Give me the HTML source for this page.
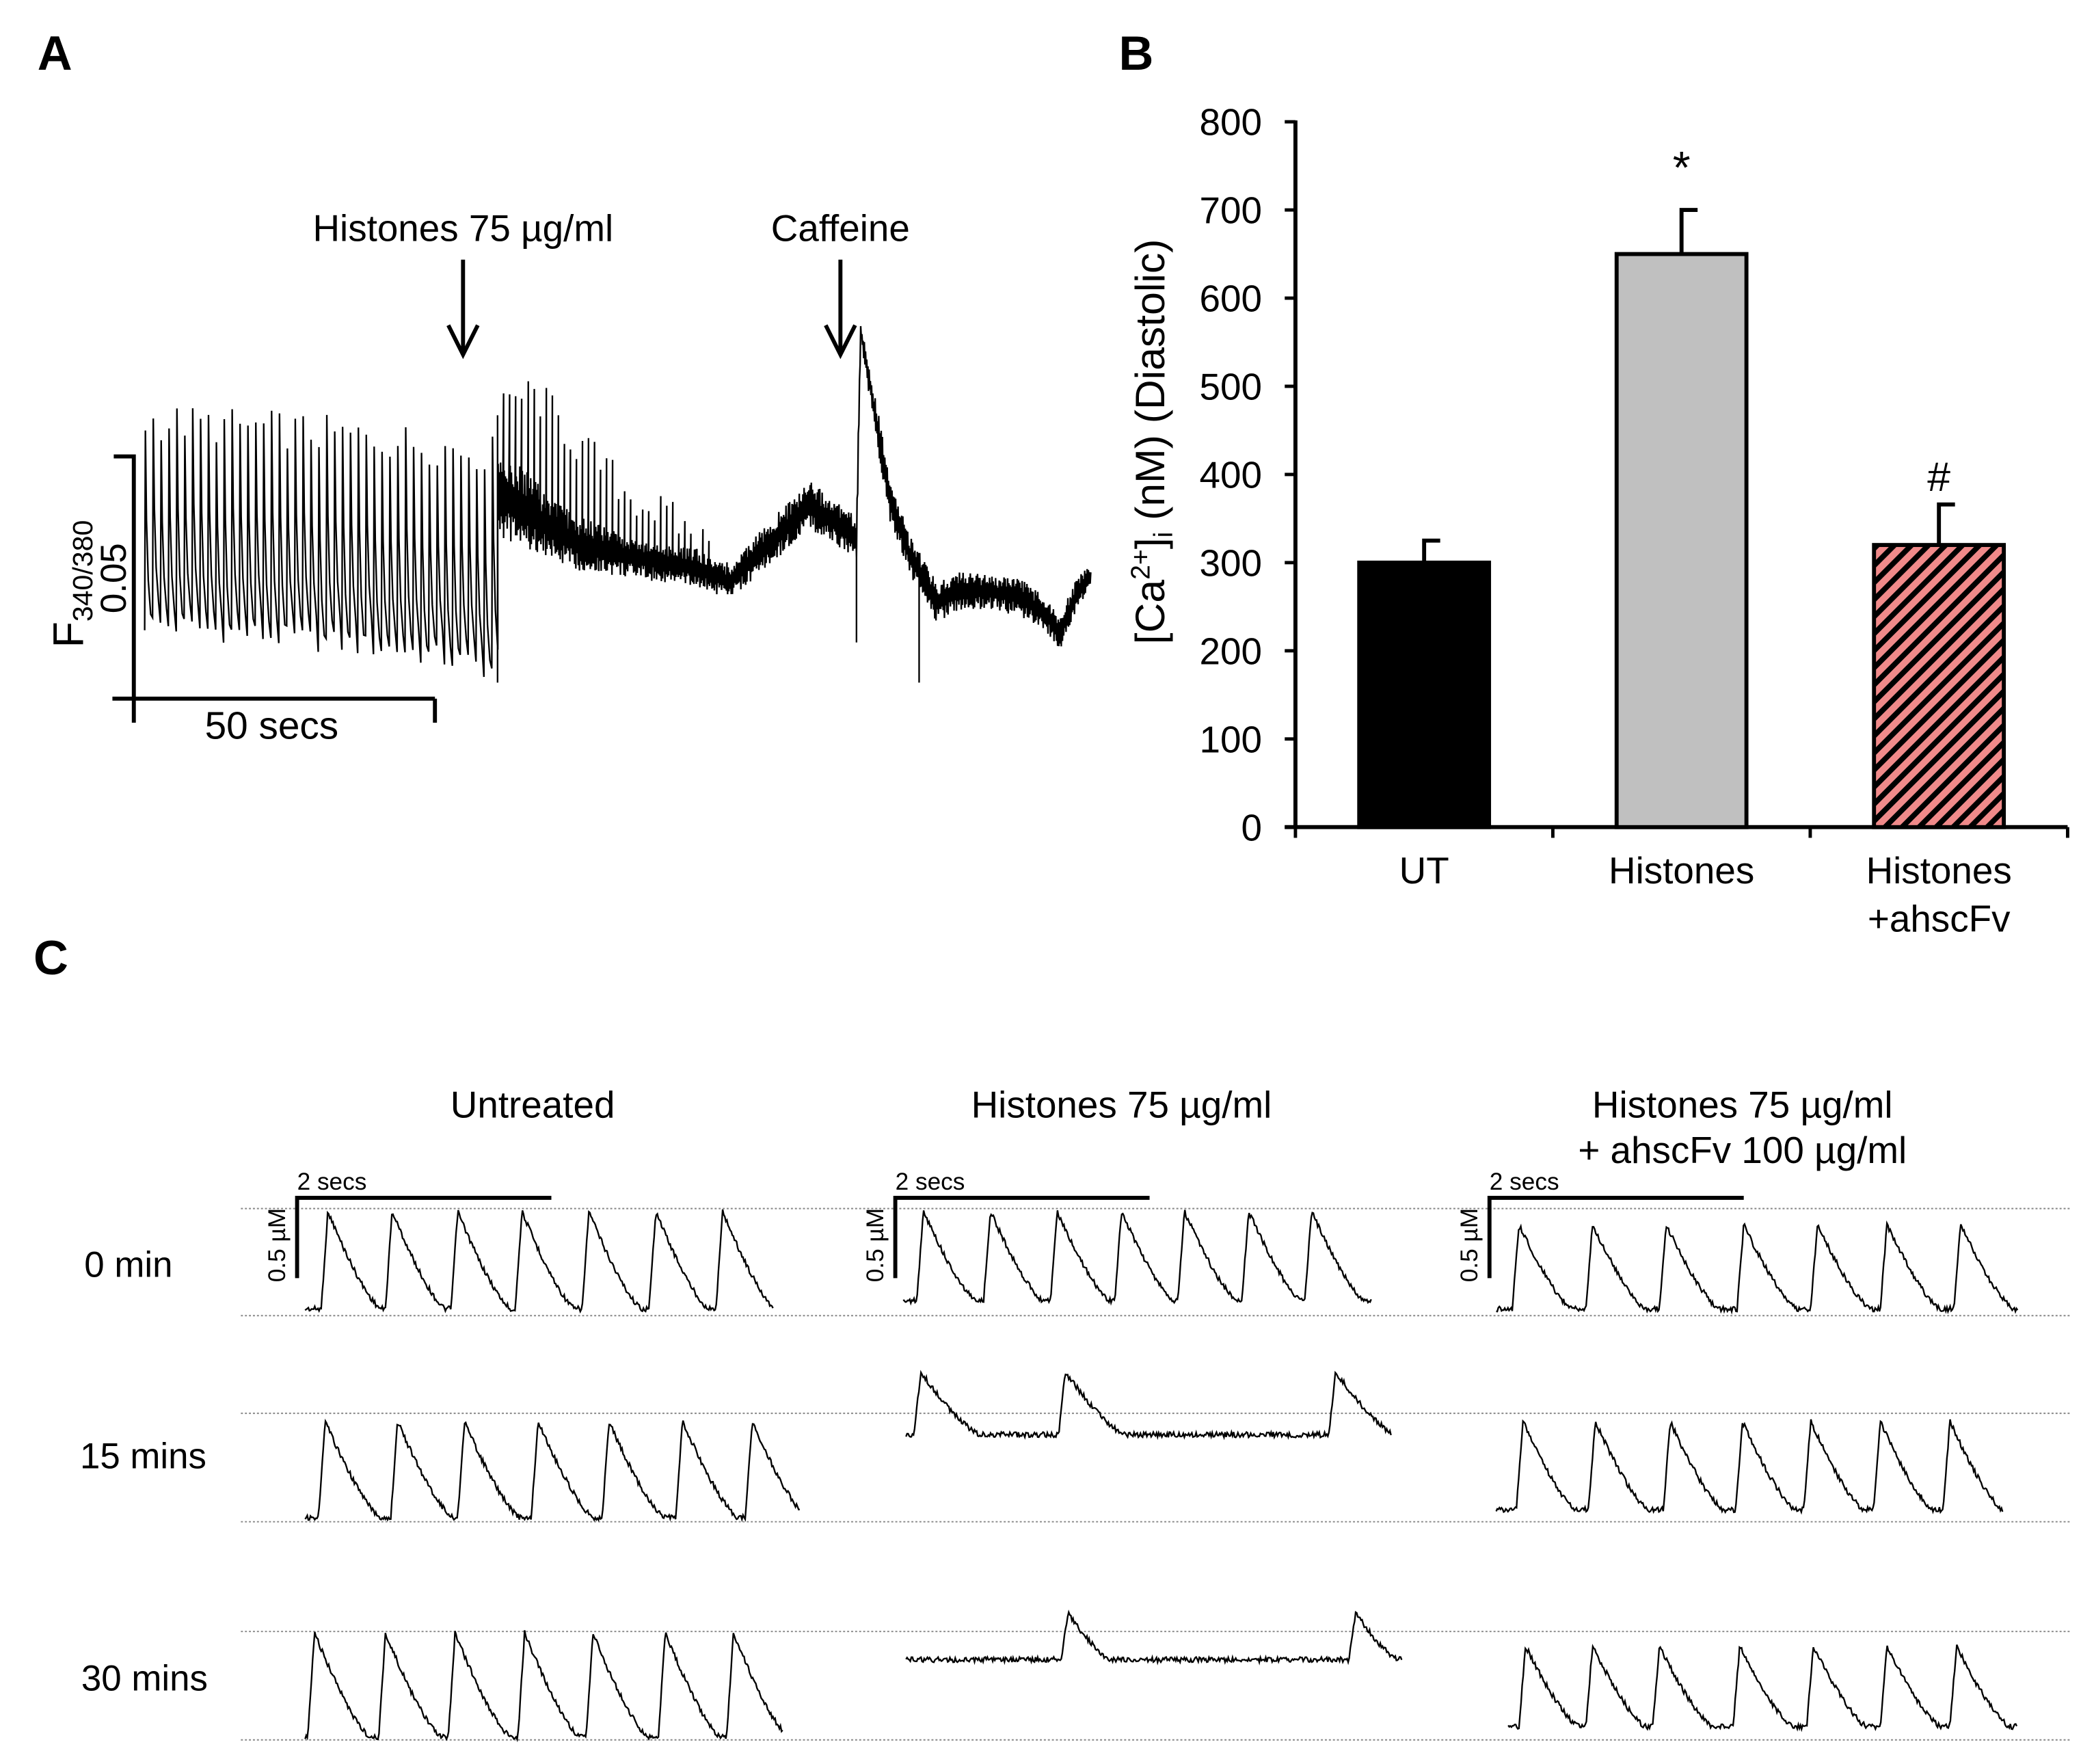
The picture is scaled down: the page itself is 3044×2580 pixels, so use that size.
<!DOCTYPE html>
<html><head><meta charset="utf-8"><style>
html,body{margin:0;padding:0;background:#fff}
svg{display:block}
text{font-family:"Liberation Sans",Arial,sans-serif;fill:#000}
</style></head><body>
<svg id="fig" xmlns="http://www.w3.org/2000/svg" width="3044" height="2580" viewBox="0 0 1555 1318" preserveAspectRatio="none">
<defs>
<pattern id="hatch" patternUnits="userSpaceOnUse" width="9" height="9" patternTransform="rotate(45)">
<rect width="9" height="9" fill="#f08a8a"/><rect width="4" height="9" fill="#000"/>
</pattern>
</defs>
<g>
<text x="28" y="52" font-size="36" font-weight="bold">A</text>
<text x="346" y="180" font-size="28" text-anchor="middle">Histones 75 µg/ml</text>
<text x="628" y="180" font-size="28" text-anchor="middle">Caffeine</text>
<g stroke="#000" stroke-width="3" fill="none"><line x1="346" y1="194" x2="346" y2="264"/><polyline points="335,243 346,265 357,243"/></g>
<g stroke="#000" stroke-width="3" fill="none"><line x1="628" y1="194" x2="628" y2="264"/><polyline points="617,243 628,265 639,243"/></g>
<g stroke="#000" stroke-width="3" fill="none">
<polyline points="85,341 100,341 100,540"/><line x1="84" y1="522" x2="325" y2="522"/><line x1="325" y1="522" x2="325" y2="540"/>
</g>
<text x="203" y="552" font-size="29" text-anchor="middle">50 secs</text>
<text transform="translate(62,484) rotate(-90)" font-size="32">F<tspan font-size="21" dy="7">340/380</tspan></text>
<text transform="translate(94,432) rotate(-90)" font-size="27" text-anchor="middle">0.05</text>
<g id="traceA"></g>
</g>

<g>
<text x="836" y="52" font-size="36" font-weight="bold">B</text>
<g id="chartB"></g>
</g>

<g>
<text x="25" y="728" font-size="36" font-weight="bold">C</text>
<text x="398" y="835" font-size="28" text-anchor="middle">Untreated</text>
<text x="838" y="835" font-size="28" text-anchor="middle">Histones 75 µg/ml</text>
<text x="1302" y="835" font-size="28" text-anchor="middle">Histones 75 µg/ml</text>
<text x="1302" y="869" font-size="28" text-anchor="middle">+ ahscFv 100 µg/ml</text>
<text x="96" y="954" font-size="27" text-anchor="middle">0 min</text>
<text x="107" y="1097" font-size="27" text-anchor="middle">15 mins</text>
<text x="108" y="1263" font-size="27" text-anchor="middle">30 mins</text>
<g id="panelC"></g>
</g>
</svg>
<script>
const NS="http://www.w3.org/2000/svg";
// ---------- Panel A data (time in s, F340/380 ratio ×1000 above scale-bar base) ----------
const beatTimes=[1.8,22.2,44.4,60];
const beatTroughF=[15.7,13.0,10.2,6.1];
const beatPeakF=[57.2,55.8,53.0,50.3];
const envT=[60.4,64.4,68.9,73.3,82.2,93.3,98.9,104.4,112.2,116.7,120,120.7,123.3,125.6,128.9,133.3,137.8,142.2,146.7,151.1,153.8,156.7,158.9];
const envLow=[33.7,31.0,29.0,26.5,25.0,23.0,20.5,26.0,35.0,31.5,29.0,74,53.0,36.5,25.4,15.7,18.5,18.5,17.1,14.4,10.2,18.5,22.7];
const envHigh=[50.0,48.0,42.0,38.0,33.5,30.9,27.5,35.1,45.0,40.5,37.5,77.9,61.3,44.8,33.7,24.0,26.8,25.4,25.4,21.3,17.1,25.4,27.5];
const spikeEnvT=[60.4,63,66,69,73,78,82,88,93,99];
const spikeEnvF=[58,62,63,60,53,48,42,38,34,28];
const spikeT=[60.4,120,130.4];
const spikeF=[3.3,11.6,3.3];
function ax(t){return 100+t*4.5;}
function ay(f){return 522-f*3.62;}
function interp(xs,ys,x){if(x<=xs[0])return ys[0];for(let i=1;i<xs.length;i++){if(x<=xs[i]){const r=(x-xs[i-1])/(xs[i]-xs[i-1]);return ys[i-1]+r*(ys[i]-ys[i-1]);}}return ys[ys.length-1];}
function h(i){const s=Math.sin(i*12.9898+78.233)*43758.5453;return s-Math.floor(s);}
(function(){
  const g=document.getElementById('traceA');
  let pts=[];
  const period=1.31;let k=0;
  for(let t=beatTimes[0];t<60;t+=period,k++){
    const lo=interp(beatTimes,beatTroughF,t)+(h(k)-0.5)*5;
    const hi=interp(beatTimes,beatPeakF,t)+(h(k+99)-0.5)*8;
    pts.push([ax(t),ay(lo)]);pts.push([ax(t+0.12),ay(hi)]);
    pts.push([ax(t+0.3),ay(lo+(hi-lo)*0.55)]);pts.push([ax(t+0.6),ay(lo+(hi-lo)*0.25)]);pts.push([ax(t+1.0),ay(lo+(hi-lo)*0.08)]);
  }
  let j=0;let nextBeat=60.4;let bk=0;
  for(let t=60.4;t<=158.9;t+=0.1,j++){
    const lo=interp(envT,envLow,t),hi=interp(envT,envHigh,t);
    const r=(j%2===0)?h(j)*0.35:0.65+h(j)*0.35;
    let f=lo+(hi-lo)*r;
    if(t>=nextBeat&&t<99){
      const sp=interp(spikeEnvT,spikeEnvF,t)+(h(bk+300)-0.5)*8;
      pts.push([ax(t),ay(sp)]);
      nextBeat+=1.0;bk++;
    }
    pts.push([ax(t),ay(f)]);
    for(let s=0;s<spikeT.length;s++){if(Math.abs(t-spikeT[s])<0.051){pts.push([ax(t),ay(spikeF[s])]);pts.push([ax(t),ay(f)]);}}
  }
  const p=document.createElementNS(NS,'polyline');
  p.setAttribute('points',pts.map(q=>q[0].toFixed(2)+','+q[1].toFixed(2)).join(' '));
  p.setAttribute('fill','none');p.setAttribute('stroke','#000');p.setAttribute('stroke-width','1.2');
  
  
  g.appendChild(p);
})();

// ---------- Panel B data ----------
const categories=["UT","Histones","Histones\n+ahscFv"];
const means=[300,650,320];
const errors=[25,50,46];
const markers=["","*","#"];
const yTicks=[0,100,200,300,400,500,600,700,800];
(function(){
  const g=document.getElementById('chartB');
  const X0=968,X1=1545,Y0=618,Y1=91,yMax=800;
  const y=v=>Y0-(v/yMax)*(Y0-Y1);
  const band=(X1-X0)/categories.length;
  const xc=i=>X0+band*(i+0.5);
  const fills=["#000","#c0c0c0","url(#hatch)"];
  function el(tag,attrs,parent){const e=document.createElementNS(NS,tag);for(const k in attrs)e.setAttribute(k,attrs[k]);(parent||g).appendChild(e);return e;}
  let a=el('line',{x1:X0,y1:Y0,x2:X0,y2:Y1-1,stroke:'#000','stroke-width':3});
  
  
  a=el('line',{x1:X0-8,y1:Y0,x2:X1,y2:Y0,stroke:'#000','stroke-width':3});
  
  
  yTicks.forEach(v=>{
    const t=el('line',{x1:X0-8,y1:y(v),x2:X0,y2:y(v),stroke:'#000','stroke-width':2.5});
    
    
    const tx=el('text',{x:943,y:y(v)+10,'font-size':28,'text-anchor':'end'});tx.textContent=v;
    
    
  });
  for(let i=0;i<=categories.length;i++){
    const t=el('line',{x1:X0+band*i,y1:Y0,x2:X0+band*i,y2:Y0+8,stroke:'#000','stroke-width':2.5});
    
    
  }
  const bw=97;
  categories.forEach((c,i)=>{
    const cx=xc(i);
    const eb=el('polyline',{points:`${cx},${y(means[i])} ${cx},${y(means[i]+errors[i])} ${cx+12},${y(means[i]+errors[i])}`,fill:'none',stroke:'#000','stroke-width':3});
    
    
    const r=el('rect',{x:cx-bw/2,y:y(means[i]),width:bw,height:Y0-y(means[i]),fill:fills[i],stroke:'#000','stroke-width':3});
    
    
    c.split('\n').forEach((ln,k)=>{
      const tx=el('text',{x:cx,y:660+k*36,'font-size':28,'text-anchor':'middle'});tx.textContent=ln;
      
      
    });
    if(markers[i]){
      const m=el('text',{x:cx,y:y(means[i]+errors[i])-(markers[i]==='*'?20:10),'font-size':markers[i]==='*'?34:31,'text-anchor':'middle'});m.textContent=markers[i];
      
      
    }
  });
  const tt=el('text',{transform:'translate(870,330) rotate(-90)','font-size':31,'text-anchor':'middle'});
  tt.innerHTML='[Ca<tspan font-size="20" dy="-11">2+</tspan><tspan dy="11">]</tspan><tspan font-size="20" dy="6">i</tspan><tspan dy="-6"> (nM) (Diastolic)</tspan>';
  
  
})();

// ---------- Panel C data ----------
const rowTop=[903,1056,1219];
const rowBottom=[983,1137,1300];
const traceStart=[[228,228,228],[675,677,677],[1118,1118,1127]];
const traceEnd=[[578,598,585],[1025,1040,1048],[1508,1497,1507]];
const peakX=[
 [[245,293,342,390,440,490,540],[243,297,347,402,455,510,562],[235,288,340,392,443,497,548]],
 [[690,740,790,838,885,933,980],[688,796,998],[798,1013]],
 [[1135,1190,1245,1303,1358,1410,1465],[1138,1192,1248,1302,1353,1405,1457],[1140,1190,1240,1300,1355,1410,1462]]];
const peakY=[[905,1062,1220],[905,1025,1205],[915,1062,1230]];
const baseY=[[978,1134,1298],[972,1072,1240],[978,1128,1290]];
const decayLen=[[40,42,42],[40,45,32],[40,40,40]];
(function(){
  const g=document.getElementById('panelC');
  function el(tag,attrs){const e=document.createElementNS(NS,tag);for(const k in attrs)e.setAttribute(k,attrs[k]);g.appendChild(e);return e;}
  rowTop.concat(rowBottom).forEach(yy=>{
    const l=el('line',{x1:180,y1:yy,x2:1548,y2:yy,stroke:'#888','stroke-width':1,'stroke-dasharray':'1.5,1.5'});
    
    
  });
  const colX=[222,669,1113];
  colX.forEach((x,c)=>{
    const sb=el('polyline',{points:`${x},955 ${x},895 ${x+190},895`,fill:'none',stroke:'#000','stroke-width':3});
    
    
    const t=el('text',{x:x,y:889,'font-size':18});t.textContent='2 secs';
    
    
    const t2=el('text',{transform:`translate(${x-9},958) rotate(-90)`,'font-size':18});t2.textContent='0.5 µM';
    
    
  });
  let n=0;
  for(let c=0;c<3;c++)for(let r=0;r<3;r++){
    const pk=peakX[c][r],top=peakY[c][r],base=baseY[c][r],dl=decayLen[c][r];
    const pts=[];
    for(let x=traceStart[c][r];x<=traceEnd[c][r];x+=0.8){
      let v=0;
      for(const p of pk){
        const d=x-p;
        if(d>-5&&d<=0)v=Math.max(v,1+d/5);
        else if(d>0&&d<dl*1.4){const u=Math.min(1,d/dl);v=Math.max(v,Math.pow(1-u,1.35));}
      }
      n++;
      const noise=(h(n)-0.5)*4;
      pts.push(x.toFixed(1)+','+(base-(base-top)*v+noise).toFixed(1));
    }
    const pl=el('polyline',{points:pts.join(' '),fill:'none',stroke:'#000','stroke-width':1.2});
    
    
  }
})();
</script>
</body></html>
